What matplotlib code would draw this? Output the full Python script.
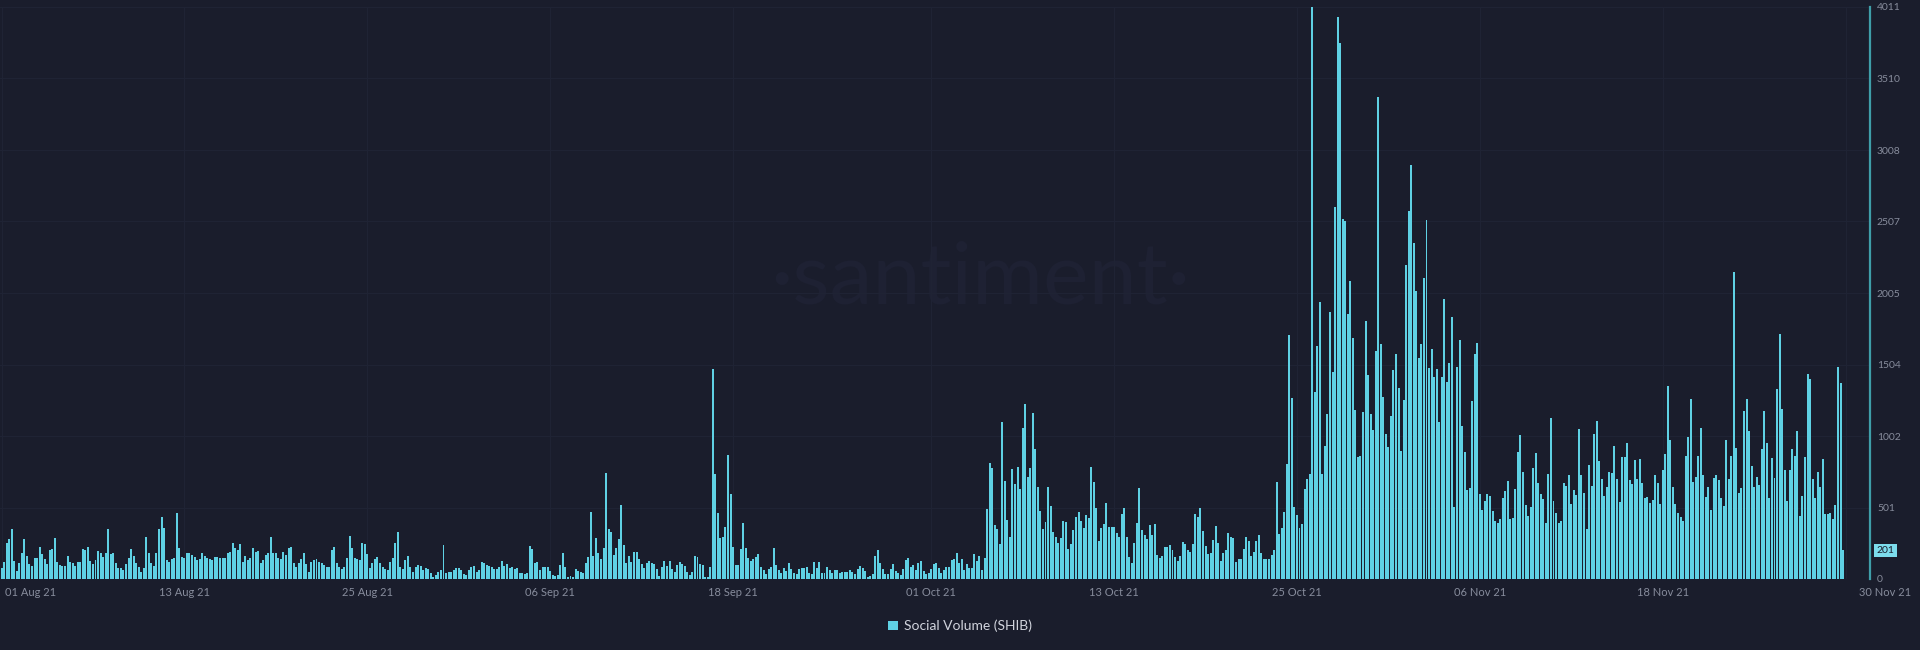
import matplotlib
matplotlib.use("Agg")
import matplotlib.pyplot as plt
import matplotlib.dates as mdates
import matplotlib.transforms as mtransforms
from matplotlib.patches import Patch
import numpy as np
import pandas as pd

plt.rcParams["font.family"] = ["Lato", "DejaVu Sans"]

# Social volume (SHIB), 4-hour bars starting 01 Aug 2021 00:00
vol_aug_early = [75, 122, 250, 278, 351, 126, 56, 110, 180, 278,
                 161, 103, 91, 150, 150, 227, 173, 138, 105, 204,
                 208, 285, 117, 98, 94, 91, 161, 122, 110, 91,
                 122, 122, 208, 201, 227, 129, 105, 133, 199, 185,
                 152, 180, 349, 176, 185, 110, 80, 75, 63, 105,
                 145, 208, 161, 115, 82, 51, 80, 293, 185, 110,
                 91, 185, 349, 433, 356, 133, 122, 138, 150, 461,
                 215, 157, 150, 180, 180, 168, 157, 133, 138, 185,
                 161, 145, 140, 133, 157, 157, 145, 145, 145, 180,
                 192, 250, 215, 204]
vol_aug_late = [246, 122, 161, 133, 145, 215, 192, 199, 115, 133,
                168, 180, 297, 185, 185, 145, 140, 192, 168, 215,
                222, 115, 87, 115, 138, 180, 105, 51, 122, 133,
                140, 122, 110, 98, 87, 87, 204, 222, 110, 82,
                68, 87, 150, 302, 215, 145, 140, 133, 255, 246,
                176, 75, 115, 140, 157, 115, 82, 70, 63, 122,
                145, 255, 328, 82, 68, 133, 161, 87, 51, 87,
                98, 91, 63, 75, 68, 44, 16, 28, 51, 63,
                239, 40, 47, 51, 63, 75, 80, 63, 33, 28,
                63, 82, 91, 51, 63]
vol_sep_early = [117, 110, 98, 91, 82, 73, 68, 82, 129, 91,
                 103, 75, 82, 73, 77, 44, 40, 37, 40,
                 232, 211, 110, 122, 63, 82, 82, 87, 59, 28,
                 23, 28, 96, 185, 82, 16, 23, 16, 68, 59,
                 47, 44, 110, 152, 468, 161, 285, 185, 138, 215,
                 742, 353, 330, 168, 215, 281, 519, 239, 110, 161,
                 122, 192, 192, 138, 105, 77, 110, 129, 110, 105,
                 68, 21, 87, 129, 91, 126, 68, 51, 98, 117,
                 103, 91, 51, 28, 51, 161, 157, 103, 98, 16,
                 16, 82, 1472, 737, 466]
vol_sep_late = [285, 297, 367, 870, 597, 222, 98, 98, 208, 395,
                215, 145, 126, 138, 157, 176, 87, 63, 33, 68,
                87, 215, 98, 63, 44, 80, 59, 110, 68, 40,
                35, 73, 77, 77, 82, 40, 35, 117, 75, 122,
                44, 40, 82, 63, 40, 63, 63, 44, 47, 49,
                51, 63, 51, 33, 68, 91, 80, 59, 16, 23,
                33, 161, 204, 110, 68, 35, 33, 68, 103, 59,
                40, 28, 68, 133, 145, 82, 98, 63, 115, 129,
                59, 35, 40, 68, 105, 110, 75, 44, 63, 82,
                87, 133, 138, 180, 110]
vol_oct_early = [138, 63, 103, 75, 80, 173, 126, 161, 63, 150,
                 491, 812, 777, 379, 349, 243, 1104, 688, 414, 297,
                 770, 665, 782, 629, 1062, 1226, 718, 777, 1163, 910,
                 648, 477, 349, 402, 644, 512, 332, 297, 250, 285,
                 410, 402, 211, 243, 344, 438, 473, 407, 360, 449,
                 426, 782, 683, 496, 269, 356, 386, 531, 367, 367,
                 363, 321, 293, 454, 496, 293, 157, 115, 255, 391,
                 636, 344, 309, 278, 379, 309, 386, 168, 145, 161,
                 222, 222, 239, 204, 157, 126, 161, 262, 246, 204,
                 192, 243, 456, 438]
vol_oct_late = [495, 335, 228, 177, 182, 270, 375, 249, 129, 182,
                204, 321, 295, 289, 121, 142, 142, 209, 295, 268,
                161, 187, 268, 308, 182, 142, 137, 142, 169, 204,
                678, 316, 356, 469, 803, 1709, 1267, 503, 450, 356,
                383, 629, 704, 736, 4011, 1312, 1636, 1942, 736, 932,
                1160, 1869, 1454, 2611, 3939, 3762, 2525, 2507, 1861, 2089,
                1690, 1186, 852, 860, 1168, 1810, 1427, 1160, 1047, 1596,
                3377, 1647, 1275, 1018, 927, 1141, 1468, 1580, 1339, 900,
                1253, 2204, 2584, 2900, 2359, 2017, 1548, 1650, 2110, 2517,
                1481, 1615, 1414, 1476, 1098]
vol_nov_early = [1419, 1963, 1382, 1513, 1837, 503, 1487, 1674, 1071, 892,
                 624, 637, 1248, 1575, 1655, 597, 482, 544, 597, 584,
                 477, 410, 396, 423, 570, 616, 686, 423, 428, 632,
                 892, 1012, 750, 522, 445, 503, 779, 886, 672, 597,
                 562, 391, 739, 1127, 549, 463, 396, 404, 672, 651,
                 731, 525, 624, 589, 1052, 731, 603, 348, 798, 651,
                 1020, 1106, 825, 699, 584, 643, 753, 745, 932, 704,
                 538, 852, 857, 953, 691, 664, 833, 704, 844, 672,
                 565, 576, 536, 552, 726, 672, 525, 763, 878, 1355,
                 972, 645, 525, 463]
vol_nov_late = [437, 410, 860, 999, 1261, 683, 718, 860, 1060, 726,
                578, 643, 482, 710, 731, 691, 570, 511, 972, 699,
                865, 2150, 919, 603, 637, 1178, 1261, 1039, 790, 643,
                712, 659, 913, 1181, 953, 565, 846, 710, 1334, 1717,
                1194, 763, 549, 766, 913, 860, 1039, 442, 584, 857,
                1435, 1401, 699, 565, 750, 643, 838, 455, 455, 463,
                423, 517, 1486, 1374, 201]

date_ticks = ["2021-08-01", "2021-08-13", "2021-08-25", "2021-09-06", "2021-09-18", "2021-10-01",
              "2021-10-13", "2021-10-25", "2021-11-06", "2021-11-18", "2021-11-30"]
y_ticks = [0, 501, 1002, 1504, 2005, 2507, 3008, 3510, 4011]

BG = "#1a1d2c"
BAR = "#5fd1e4"
GRID = "#1f2334"
TXT = "#878c9c"

values = np.array(vol_aug_early + vol_aug_late + vol_sep_early + vol_sep_late
                  + vol_oct_early + vol_oct_late + vol_nov_early + vol_nov_late)
times = pd.date_range("2021-08-01", periods=len(values), freq="4h")
x = mdates.date2num(times)
x0 = x[0]
step = 1 / 6

fig = plt.figure(figsize=(19.2, 6.5), dpi=100, facecolor=BG)
ax = fig.add_axes([0, 71 / 650, 1870 / 1920, 572 / 650])
ax.set_facecolor(BG)

ax.bar(x, values, width=step * 0.78, color=BAR, linewidth=0, zorder=3)

ax.set_xlim(x0 - 0.6 * step, x0 + 735.6 * step)
ax.set_ylim(0, 4011)

# axes / spines
for s in ["top", "left", "bottom"]:
    ax.spines[s].set_visible(False)
ax.spines["right"].set_color("#3f9ea9")
ax.spines["right"].set_linewidth(1.6)

ax.yaxis.tick_right()
ax.set_yticks(y_ticks)
ax.set_yticklabels([str(v) for v in y_ticks])
ax.tick_params(axis="y", length=0, pad=5, labelcolor=TXT, labelsize=7.5)

tick_x = mdates.date2num(pd.to_datetime(date_ticks))
ax.set_xticks(tick_x)
ax.set_xticklabels([pd.Timestamp(d).strftime("%d %b %y") for d in date_ticks])
ax.tick_params(axis="x", length=0, pad=6, labelcolor=TXT, labelsize=8)
labels = ax.get_xticklabels()
labels[0].set_ha("left")
labels[0].set_transform(labels[0].get_transform() + mtransforms.ScaledTranslation(0.03, 0, fig.dpi_scale_trans))
labels[-1].set_ha("left")
labels[-1].set_transform(labels[-1].get_transform() + mtransforms.ScaledTranslation(0.13, 0, fig.dpi_scale_trans))

ax.grid(True, color=GRID, linewidth=0.8, zorder=0)

# watermark
ax.text(980 / 1870, (579 - 280) / 572, "·santiment·", transform=ax.transAxes,
        fontsize=62, color="#1e2133", ha="center", va="center", zorder=1)

# last value marker
trans = mtransforms.blended_transform_factory(ax.transAxes, ax.transData)
ax.text(1.0035, values[-1], str(values[-1]), transform=trans, ha="left", va="center",
        fontsize=7.5, color=BG, clip_on=False,
        bbox=dict(facecolor="#7cdcec", edgecolor="none", pad=1.6))

fig.legend(handles=[Patch(facecolor=BAR)], labels=["Social Volume (SHIB)"],
           loc="center", bbox_to_anchor=(960 / 1920, 1 - 626 / 650), frameon=False,
           handlelength=0.7, handleheight=0.7, handletextpad=0.4,
           fontsize=10, labelcolor="#d0d3dc")

fig.savefig("out.png", dpi=100, facecolor=BG)
